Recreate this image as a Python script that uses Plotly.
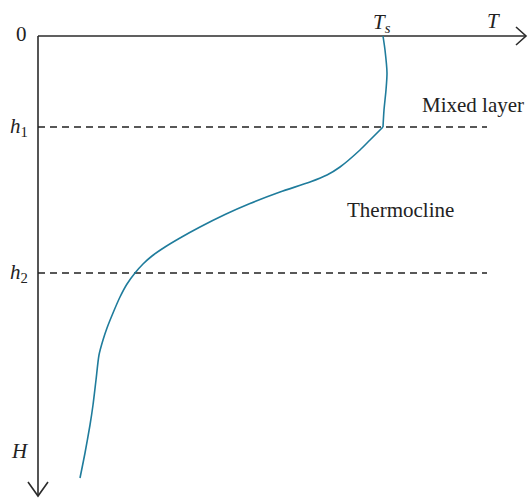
import plotly.graph_objects as go

# Temperature profile (T measured from the vertical axis, depth measured down from the surface)
mixed_T = [345, 347, 349, 348, 346, 345]
mixed_D = [0, 14, 37, 54, 74, 91]
deep_T = [345, 332, 322, 302, 289, 272, 242, 212, 187, 162, 142, 127, 114, 105, 97, 89,
          82, 75, 69, 65, 61, 58, 55, 52, 47, 42]
deep_D = [91, 104, 114, 131, 139, 146, 156, 167.5, 178.5, 191, 202, 211, 220, 228, 237, 248,
          261, 277, 292, 304, 319, 344, 369, 389, 417, 442]

h1_depth = 91
h2_depth = 237
H_depth = 415
Ts_value = 345
T_axis_end = 488
depth_axis_end = 460
dash_end = 449

axis_color = "#2b2b2b"
curve_color = "#1f7c9c"
font_family = "Liberation Serif, Times New Roman, serif"

fig = go.Figure()

# axes
fig.add_trace(go.Scatter(x=[0, T_axis_end], y=[0, 0], mode="lines",
                         line=dict(color=axis_color, width=1.6), hoverinfo="skip"))
fig.add_trace(go.Scatter(x=[0, 0], y=[0, depth_axis_end], mode="lines",
                         line=dict(color=axis_color, width=1.6), hoverinfo="skip"))
# arrowheads
fig.add_trace(go.Scatter(x=[T_axis_end - 10, T_axis_end, T_axis_end - 10], y=[-9, 0, 9], mode="lines",
                         line=dict(color=axis_color, width=1.6), hoverinfo="skip"))
fig.add_trace(go.Scatter(x=[-10, 0, 10], y=[depth_axis_end - 14, depth_axis_end, depth_axis_end - 14],
                         mode="lines", line=dict(color=axis_color, width=1.6), hoverinfo="skip"))

# dashed layer boundaries
for d in (h1_depth, h2_depth):
    fig.add_trace(go.Scatter(x=[0, dash_end], y=[d, d], mode="lines",
                             line=dict(color="#222222", width=1.4, dash="7px,5px"), hoverinfo="skip"))

# temperature profile: mixed layer, then thermocline and deep water
for xs, ys in ((mixed_T, mixed_D), (deep_T, deep_D)):
    fig.add_trace(go.Scatter(x=xs, y=ys, mode="lines",
                             line=dict(color=curve_color, width=1.6, shape="spline", smoothing=0.7),
                             hoverinfo="skip"))

ann_font = dict(family=font_family, size=21, color="#222222")
annotations = [
    dict(x=-9, y=-2, text="0", xanchor="right", yanchor="middle"),
    dict(x=-8, y=h1_depth, text="<i>h</i><sub>1</sub>", xanchor="right", yanchor="middle"),
    dict(x=-8, y=h2_depth, text="<i>h</i><sub>2</sub>", xanchor="right", yanchor="middle"),
    dict(x=-18, y=H_depth, text="<i>H</i>", xanchor="center", yanchor="middle"),
    dict(x=Ts_value - 1, y=-13, text="<i>T</i><sub><i>s</i></sub>", xanchor="center", yanchor="middle"),
    dict(x=455, y=-15, text="<i>T</i>", xanchor="center", yanchor="middle"),
    dict(x=435, y=69, text="Mixed layer", xanchor="center", yanchor="middle"),
    dict(x=362, y=174, text="Thermocline", xanchor="center", yanchor="middle"),
]
for a in annotations:
    a.update(xref="x", yref="y", showarrow=False, font=ann_font)

fig.update_layout(
    width=529, height=499,
    margin=dict(l=0, r=0, t=0, b=0),
    paper_bgcolor="white", plot_bgcolor="white",
    showlegend=False,
    xaxis=dict(range=[-38, 491], visible=False, fixedrange=True),
    yaxis=dict(range=[463, -36], visible=False, fixedrange=True),
    annotations=annotations,
)

fig.write_html("out.html")
